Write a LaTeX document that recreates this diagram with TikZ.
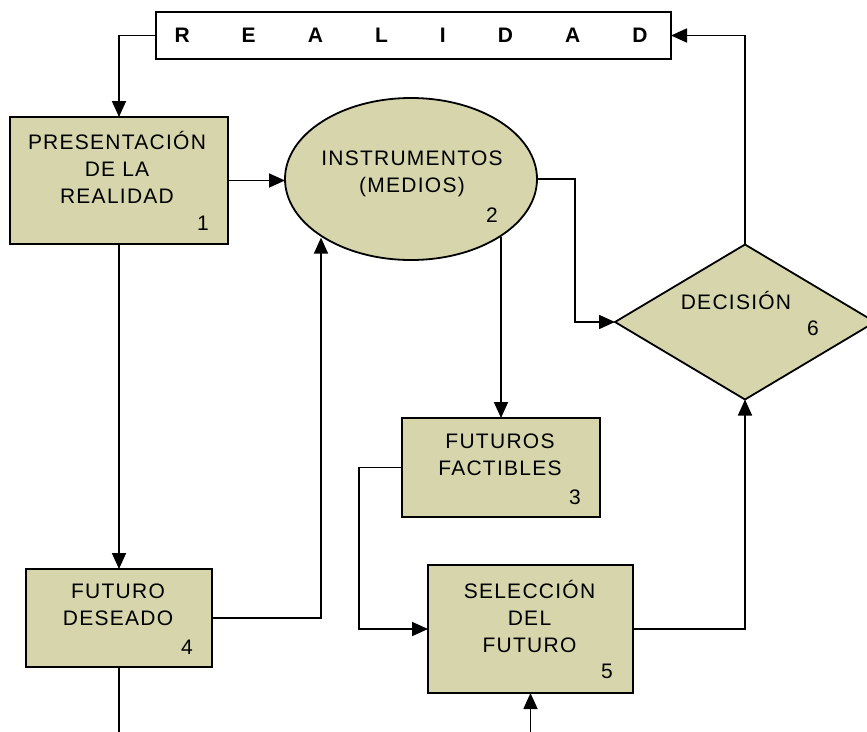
\documentclass[tikz,border=0pt]{standalone}
\usepackage{fontspec}
\setmainfont{Liberation Sans}
\newfontfamily\boxfont[LetterSpace=6]{Liberation Sans}
\usetikzlibrary{arrows.meta,shapes.geometric}
\definecolor{khaki}{RGB}{214,213,172}

\tikzset{
  stage/.style={draw, line width=1.8pt, fill=khaki, rectangle, inner sep=0pt, outer sep=0pt},
  realbox/.style={draw, line width=1.8pt, fill=white, inner sep=0pt, outer sep=0pt,
    minimum width=515pt, minimum height=47pt, font=\bfseries\fontsize{21}{24}\selectfont},
  txt/.style={font=\boxfont\fontsize{21}{27}\selectfont, align=center, inner sep=0pt},
  num/.style={font=\boxfont\fontsize{21}{27}\selectfont, inner sep=0pt},
  link/.style={line width=1.7pt, -{Triangle[length=16pt,width=14pt]}},
  plain/.style={line width=1.7pt}
}

\begin{document}
\begin{tikzpicture}[x=1pt,y=-1pt]
\useasboundingbox (0,0) rectangle (867,731);
\clip (0,0) rectangle (867,731);
\fill[white] (0,0) rectangle (867,731);

% reality banner
\node[realbox] (real) at (413.5,35.5)
  {\makebox[473pt][s]{R\hfill E\hfill A\hfill L\hfill I\hfill D\hfill A\hfill D}\hspace*{5pt}};

% stages
\node[stage, minimum width=218pt, minimum height=127pt] (p1) at (119,180.5) {};
\node[stage, ellipse, minimum width=252pt, minimum height=162pt] (p2) at (411,179) {};
\node[stage, minimum width=198pt, minimum height=99pt] (p3) at (501,467.5) {};
\node[stage, minimum width=186pt, minimum height=98pt] (p4) at (119,618) {};
\node[stage, minimum width=205pt, minimum height=128pt] (p5) at (530.5,629) {};
\node[stage, diamond, minimum width=260pt, minimum height=155pt] (p6) at (745,322) {};

% stage captions
\node[txt] (t1) at (117,167) {PRESENTACIÓN\\DE LA\\REALIDAD};
\node[txt] (t2) at (412,173.5) {INSTRUMENTOS\\(MEDIOS)};
\node[txt] (t3) at (500,455) {FUTUROS\\FACTIBLES};
\node[txt] (t4) at (118,605) {FUTURO\\DESEADO};
\node[txt] (t5) at (529.5,616) {SELECCIÓN\\DEL\\FUTURO};
\node[txt] (t6) at (736,300) {DECISIÓN};

% stage numbers
\node[num] (n1) at (203,223) {1};
\node[num] (n2) at (492,215) {2};
\node[num] (n3) at (575,497) {3};
\node[num] (n4) at (187,647) {4};
\node[num] (n5) at (607,671) {5};
\node[num] (n6) at (813,328) {6};

% bends and free ends
\coordinate (j2) at (575,179);
\coordinate (j3) at (359,467.5);
\coordinate (j4) at (321,618);
\coordinate (e4) at (119,740);
\coordinate (e5) at (530.5,740);

% connectors
\draw[link] (real.west) -| (p1.north);
\draw[link] (p1.east) -- (p1.east -| p2.west);
\draw[link] (p2.east) -- (j2) |- (p6.west);
\draw[link] (p2.-33 -| p3.north) -- (p3.north);
\draw[link] (p3.west) -- (j3) |- (p5.west);
\draw[link] (p1.south) -- (p4.north);
\draw[link] (p4.east) -- (j4) -- (p2.-146 -| j4);
\draw[plain] (p4.south) -- (e4);
\draw[link] (e5) -- (p5.south);
\draw[link] (p5.east) -| (p6.south);
\draw[link] (p6.north) |- (real.east);
\end{tikzpicture}
\end{document}
